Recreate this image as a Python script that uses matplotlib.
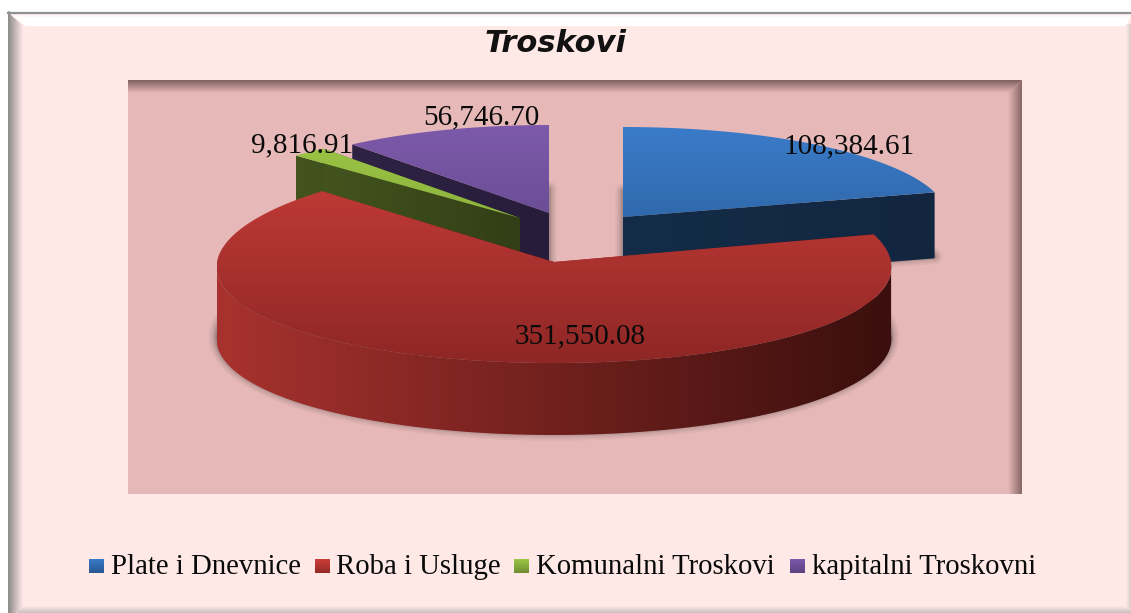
import numpy as np
import matplotlib
matplotlib.use("Agg")
import matplotlib.pyplot as plt
from matplotlib.patches import Polygon, Rectangle
from matplotlib.colors import LinearSegmentedColormap

title = "Troskovi"
names = ["Plate i Dnevnice", "Roba i Usluge", "Komunalni Troskovi", "kapitalni Troskovni"]
values = [108384.61, 351550.08, 9816.91, 56746.70]

# slice layout in pixels: tip x, tip y, radius x, radius y, depth, narrowing at the back
tips_x = [623, 554, 520, 549]
tips_y = [217, 262, 218, 213]
radii_x = [324, 337, 314, 314]
radii_y = [90, 101, 89, 88]
depths = [66, 72, 66, 66]
narrow = [0, 0.05, 0, 0]

top_cols = [("#3a7bc9", "#26578f"), ("#c63c38", "#8e2725"), ("#9cc745", "#7f9f38"), ("#7d5aab", "#5a4180")]
wall_cols = [("#142c48", "#122640"), ("#a8322e", "#3a0f0d"), ("#43541e", "#323e16"), ("#2f2344", "#271c3a")]
swatch_cols = [("#3a7bc9", "#26578f"), ("#cc3d39", "#952a27"), ("#9cc745", "#708c33"), ("#7d5aab", "#5a4180")]

label_x = [849, 580, 302, 481]
label_y = [153, 343, 152, 124]
legend_box_x = [89, 315, 514, 790]
legend_text_x = [111, 336, 536, 812]

fig = plt.figure(figsize=(11.31, 6.13), dpi=100, facecolor="white")
ax = fig.add_axes([0, 0, 1, 1])


def grad(poly, c1, c2, vertical=True, z=1, extent=None):
    # gradient image clipped to a polygon
    cmap = LinearSegmentedColormap.from_list("g", [c1, c2])
    g = np.linspace(0, 1, 256)
    g = g.reshape(-1, 1) if vertical else g.reshape(1, -1)
    pts = np.array(poly)
    if extent is None:
        extent = [pts[:, 0].min(), pts[:, 0].max(), pts[:, 1].max(), pts[:, 1].min()]
    im = ax.imshow(g, cmap=cmap, extent=extent, origin="upper", aspect="auto", zorder=z, interpolation="bilinear")
    p = Polygon(poly, closed=True, transform=ax.transData, fc="none", ec="none")
    ax.add_patch(p)
    im.set_clip_path(p)


def rect(x0, y0, x1, y1):
    return [(x0, y0), (x1, y0), (x1, y1), (x0, y1)]


# chart frame
ax.add_patch(Rectangle((8, 12), 1125, 606, fc="#fee9e7", ec="none", zorder=0))
grad([(8, 12), (23, 26), (23, 606), (8, 620)], "#8c8888", "#fee9e7", vertical=False, z=0.5)
ax.add_patch(Polygon([(8, 12), (1131, 12), (1127, 26), (25, 26)], closed=True, fc="white", ec="none", zorder=0.55))
grad([(10, 13), (1131, 13), (1131, 18), (14, 18)], "#ffeaea", "#ffffff", z=0.6)
ax.plot([8, 1131], [12.5, 12.5], color="#8f938f", lw=1.6, zorder=0.7)
ax.plot([8.5, 8.5], [12, 613], color="#8f938f", lw=1.2, zorder=0.7)
grad([(23, 606), (1131, 606), (1131, 613), (16, 613)], "#fee9e7", "#c9bdbc", z=0.6)
grad(rect(1126, 24, 1131, 608), "#fee9e7", "#d8cac9", vertical=False, z=0.6)

# plot area
ax.add_patch(Rectangle((128, 80), 894, 414, fc="#e6b8b7", ec="none", zorder=0.8))
grad([(128, 80), (1022, 80), (1008, 93), (128, 93)], "#7f5f5f", "#e6b8b7", z=0.9)
grad([(1022, 80), (1022, 494), (1008, 494), (1008, 93)], "#e6b8b7", "#866666", vertical=False, z=0.9)

ax.text(556, 52, title, fontsize=22, fontweight="bold", fontstyle="oblique",
        family="DejaVu Sans", ha="center", va="baseline", color="#111111", zorder=5)

total = sum(values)
starts = np.cumsum([0] + values[:-1]) / total * 2 * np.pi
ends = np.cumsum(values) / total * 2 * np.pi


def arc(i, t):
    return np.column_stack([tips_x[i] + radii_x[i] * np.sin(t) * (1 - narrow[i] * np.cos(t)),
                            tips_y[i] - radii_y[i] * np.cos(t)])


# soft shadows under the bottom faces
for i in range(4):
    t = np.linspace(starts[i], ends[i], 200)
    face = np.vstack([[tips_x[i], tips_y[i]], arc(i, t)]) + [0, depths[i] - 2]
    for lw, al in [(11, 0.06), (8, 0.08), (5, 0.12), (2.5, 0.16)]:
        ax.add_patch(Polygon(face, closed=True, fc="#3a3a3a", ec="#3a3a3a", lw=lw, alpha=al,
                             joinstyle="round", zorder=1.5))

# back to front
for z, i in enumerate([3, 2, 0, 1]):
    z0 = 2 + z * 0.1
    d = depths[i]
    tip = np.array([tips_x[i], tips_y[i]])
    t = np.linspace(starts[i], ends[i], 400)
    edge = arc(i, t)
    # flat cut walls
    for pt in [edge[0], edge[-1]]:
        wall = [tuple(tip), tuple(pt), (pt[0], pt[1] + d), (tip[0], tip[1] + d)]
        grad(wall, wall_cols[i][0], wall_cols[i][1], vertical=False, z=z0)
    # outer wall, only the part that faces the viewer
    front = edge[np.cos(t) <= 0]
    if len(front):
        wall = np.vstack([front, (front + [0, d])[::-1]])
        grad(wall, wall_cols[i][0], wall_cols[i][1], vertical=False, z=z0 + 0.01)
    # top face
    face = np.vstack([tip, edge])
    grad(face, top_cols[i][0], top_cols[i][1], z=z0 + 0.02,
         extent=[tip[0] - radii_x[i], tip[0] + radii_x[i], tip[1] + radii_y[i], tip[1] - radii_y[i]])

for i in range(4):
    ax.text(label_x[i], label_y[i], f"{values[i]:,.2f}", fontsize=21, family="Liberation Serif",
            ha="center", va="baseline", color="#0a0a0a", zorder=6)

# legend
for i in range(4):
    grad(rect(legend_box_x[i], 559, legend_box_x[i] + 15, 573), swatch_cols[i][0], swatch_cols[i][1], z=3)
    ax.text(legend_text_x[i], 574, names[i], fontsize=20.7, family="Liberation Serif",
            ha="left", va="baseline", color="#0a0a0a", zorder=6)

ax.set_xlim(0, 1131)
ax.set_ylim(613, 0)
ax.axis("off")
fig.savefig("out.png", dpi=100, facecolor="white")
